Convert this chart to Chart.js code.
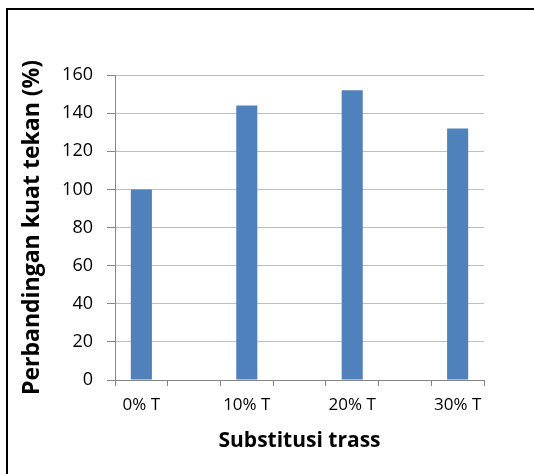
<!DOCTYPE html>
<html>
<head>
<meta charset="utf-8">
<script src="https://cdn.jsdelivr.net/npm/chart.js@4/dist/chart.umd.min.js"></script>
<style>
  html, body { margin: 0; padding: 0; background: #fff; }
  #wrap { position: relative; width: 534px; height: 474px; overflow: hidden; }
  #frame { position: absolute; left: 6px; top: 8px; width: 600px; height: 600px; border: 2px solid #000; box-sizing: border-box; }
  canvas { position: absolute; left: 0; top: 0; }
</style>
</head>
<body>
<div id="wrap">
  <div id="frame"></div>
  <canvas id="chart" width="534" height="474"></canvas>
</div>
<script>
// categories: empty slots sit between the labelled groups
const categories = ["0% T", "", "10% T", "", "20% T", "", "30% T"];
const values = [100, null, 144, null, 152, null, 132];
const yTicks = [0, 20, 40, 60, 80, 100, 120, 140, 160];

const yTitle = "Perbandingan kuat tekan (%)";
const xTitle = "Substitusi trass";

new Chart(document.getElementById("chart"), {
  type: "bar",
  data: {
    labels: categories,
    datasets: [{
      data: values,
      backgroundColor: "#4F81BD",
      categoryPercentage: 1,
      barPercentage: 0.4,
    }],
  },
  options: {
    responsive: false,
    animation: false,
    layout: { padding: { left: 8, top: 75, right: 50, bottom: 0 } },
    plugins: { legend: { display: false }, tooltip: { enabled: false } },
    scales: {
      x: {
        grid: {
          offset: true,
          drawOnChartArea: false,
          drawTicks: true,
          tickLength: 6,
          color: "#868686",
        },
        border: { color: "#868686", width: 1 },
        ticks: {
          color: "#000",
          padding: 9,
          maxRotation: 0,
          autoSkip: false,
          font: { family: "'Open Sans'", size: 17 },
        },
        title: {
          display: true,
          text: xTitle,
          color: "#000",
          padding: { top: 0, bottom: 20 },
          font: { family: "'Open Sans'", size: 21, weight: "bold" },
        },
        afterFit: (scale) => { scale.height = 94; },
      },
      y: {
        min: 0,
        max: 160,
        afterBuildTicks: (scale) => { scale.ticks = yTicks.map(v => ({ value: v })); },
        grid: {
          color: "#BFBFBF",
          tickColor: "#868686",
          tickLength: 8,
        },
        border: { color: "#868686", width: 1 },
        ticks: {
          color: "#000",
          padding: 14,
          font: { family: "'Open Sans'", size: 18 },
        },
        title: {
          display: true,
          text: yTitle,
          color: "#000",
          padding: { top: 11, bottom: 0 },
          font: { family: "'Open Sans'", size: 23, weight: "bold" },
        },
        afterFit: (scale) => { scale.width = 107; },
      },
    },
  },
});
</script>
</body>
</html>
